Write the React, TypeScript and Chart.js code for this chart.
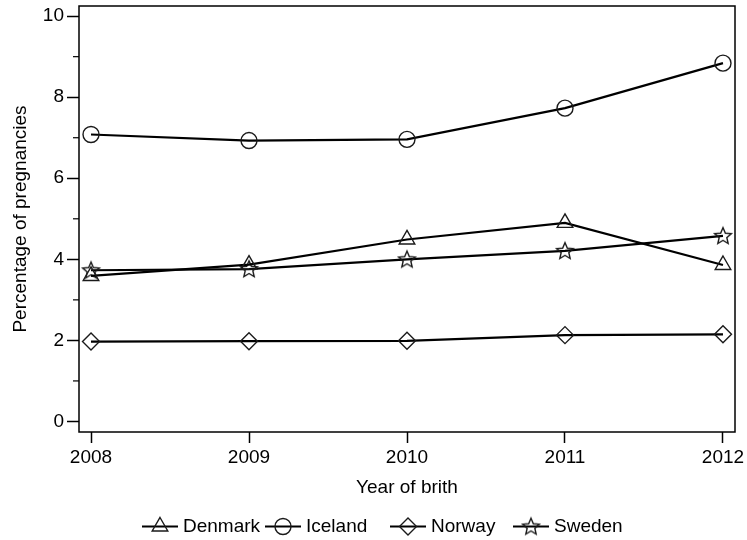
import React, { useEffect, useRef } from 'react';
import { Chart, registerables } from 'chart.js';

Chart.register(...registerables);

// ---- Data ----
const years = [2008, 2009, 2010, 2011, 2012];
const seriesNames = ['Denmark', 'Iceland', 'Norway', 'Sweden'];
const denmark = [3.59, 3.87, 4.49, 4.9, 3.86];
const iceland = [7.08, 6.93, 6.96, 7.73, 8.84];
const norway = [1.97, 1.98, 1.99, 2.13, 2.15];
const sweden = [3.73, 3.76, 4.0, 4.21, 4.58];
const yTicks = [0, 2, 4, 6, 8, 10];
const yMinorTicks = [1, 3, 5, 7, 9];
const xTitle = 'Year of brith';
const yTitle = 'Percentage of pregnancies';

const FONT = '"Liberation Sans", Arial, sans-serif';
const FS = 19;
const MARKER_COLOR = '#1a1a1a';

function starPath(ctx: CanvasRenderingContext2D, cx: number, cy: number, ro: number, ri: number) {
  ctx.beginPath();
  for (let i = 0; i < 10; i++) {
    const r = i % 2 === 0 ? ro : ri;
    const a = -Math.PI / 2 + (i * Math.PI) / 5;
    const px = cx + r * Math.cos(a);
    const py = cy + r * Math.sin(a);
    if (i === 0) ctx.moveTo(px, py);
    else ctx.lineTo(px, py);
  }
  ctx.closePath();
}

function makeStar(): HTMLCanvasElement {
  const c = document.createElement('canvas');
  c.width = 22;
  c.height = 22;
  const ctx = c.getContext('2d')!;
  ctx.strokeStyle = MARKER_COLOR;
  ctx.lineWidth = 1.4;
  ctx.lineJoin = 'miter';
  starPath(ctx, 11, 11.5, 8.8, 4.0);
  ctx.stroke();
  return c;
}

export default function App() {
  const ref = useRef<HTMLCanvasElement | null>(null);

  useEffect(() => {
    if (!ref.current) return;
    const star = makeStar();
    const styles: any[] = ['triangle', 'circle', 'rectRot', star];
    const radii = [9, 8, 8.5, 9];
    const values = [denmark, iceland, norway, sweden];

    const datasets = seriesNames.map((name, i) => ({
      label: name,
      data: years.map((yr, j) => ({ x: yr, y: values[i][j] })),
      borderColor: '#000',
      borderWidth: 2.2,
      tension: 0,
      fill: false,
      pointStyle: styles[i],
      pointRadius: radii[i],
      pointHoverRadius: radii[i],
      pointBorderColor: MARKER_COLOR,
      pointBorderWidth: 1.4,
      pointBackgroundColor: 'rgba(0,0,0,0)',
    }));

    const framePlugin = {
      id: 'frame',
      afterDraw(chart: any) {
        const { ctx, chartArea } = chart;
        const { left, top, right, bottom } = chartArea;
        ctx.save();
        ctx.strokeStyle = '#000';
        ctx.lineWidth = 1.5;
        ctx.strokeRect(left, top, right - left, bottom - top);
        // minor ticks on y
        const ys = chart.scales.y;
        ctx.lineWidth = 1.2;
        yMinorTicks.forEach((v) => {
          const py = ys.getPixelForValue(v);
          ctx.beginPath();
          ctx.moveTo(left - 6, py);
          ctx.lineTo(left, py);
          ctx.stroke();
        });
        // legend
        const starts = [142, 265, 390, 513];
        const ly = 526.5;
        ctx.font = `${FS}px ${FONT}`;
        ctx.textBaseline = 'middle';
        ctx.textAlign = 'left';
        ctx.fillStyle = '#000';
        seriesNames.forEach((name, i) => {
          const x0 = starts[i];
          const lineLen = 36;
          ctx.strokeStyle = '#000';
          ctx.lineWidth = 2.2;
          ctx.beginPath();
          ctx.moveTo(x0, ly);
          ctx.lineTo(x0 + lineLen, ly);
          ctx.stroke();
          const cx = x0 + lineLen / 2;
          const r = radii[i];
          ctx.strokeStyle = MARKER_COLOR;
          ctx.lineWidth = 1.4;
          const st = styles[i];
          if (st === 'triangle') {
            ctx.beginPath();
            ctx.moveTo(cx, ly - r);
            ctx.lineTo(cx + r * 0.866, ly + r / 2);
            ctx.lineTo(cx - r * 0.866, ly + r / 2);
            ctx.closePath();
            ctx.stroke();
          } else if (st === 'circle') {
            ctx.beginPath();
            ctx.arc(cx, ly, r, 0, Math.PI * 2);
            ctx.stroke();
          } else if (st === 'rectRot') {
            ctx.beginPath();
            ctx.moveTo(cx, ly - r);
            ctx.lineTo(cx + r, ly);
            ctx.lineTo(cx, ly + r);
            ctx.lineTo(cx - r, ly);
            ctx.closePath();
            ctx.stroke();
          } else {
            ctx.drawImage(st, cx - st.width / 2, ly - st.height / 2);
          }
          ctx.fillStyle = '#000';
          ctx.fillText(name, x0 + lineLen + 5, ly);
        });
        ctx.restore();
      },
    };

    const chart = new Chart(ref.current, {
      type: 'line',
      data: { datasets },
      options: {
        animation: false,
        responsive: false,
        maintainAspectRatio: false,
        layout: { autoPadding: false, padding: { top: 6, right: 12, left: 0, bottom: 0 } },
        plugins: {
          legend: { display: false },
          tooltip: { enabled: false },
        },
        scales: {
          x: {
            type: 'linear',
            min: 2007.924,
            max: 2012.076,
            afterBuildTicks: (axis: any) => {
              axis.ticks = years.map((v) => ({ value: v }));
            },
            afterFit: (axis: any) => {
              axis.height = 108;
              axis.paddingLeft = 0;
              axis.paddingRight = 0;
            },
            grid: {
              display: true,
              drawOnChartArea: false,
              drawTicks: true,
              tickLength: 11,
              tickColor: '#000',
              tickWidth: 1.5,
            },
            border: { display: false },
            ticks: {
              color: '#000',
              font: { family: FONT, size: FS },
              padding: 3,
              maxRotation: 0,
              autoSkip: false,
              callback: (v: any) => String(v),
            },
            title: {
              display: true,
              text: xTitle,
              color: '#000',
              font: { family: FONT, size: FS },
              padding: { top: 0, bottom: 41 },
            },
          },
          y: {
            type: 'linear',
            min: -0.26,
            max: 10.25,
            afterBuildTicks: (axis: any) => {
              axis.ticks = yTicks.map((v) => ({ value: v }));
            },
            afterFit: (axis: any) => {
              axis.width = 79;
              axis.paddingTop = 0;
              axis.paddingBottom = 0;
            },
            grid: {
              display: true,
              drawOnChartArea: false,
              drawTicks: true,
              tickLength: 12,
              tickColor: '#000',
              tickWidth: 1.5,
            },
            border: { display: false },
            ticks: {
              color: '#000',
              font: { family: FONT, size: FS },
              padding: 3,
              callback: (v: any) => String(v),
            },
            title: {
              display: true,
              text: yTitle,
              color: '#000',
              font: { family: FONT, size: FS },
              padding: { top: 9, bottom: 0 },
            },
          },
        },
      },
      plugins: [framePlugin],
    });

    return () => chart.destroy();
  }, []);

  return (
    <div style={{ position: 'absolute', left: 0, top: 0, width: 747, height: 540, background: '#fff' }}>
      <canvas ref={ref} width={747} height={540} />
    </div>
  );
}
